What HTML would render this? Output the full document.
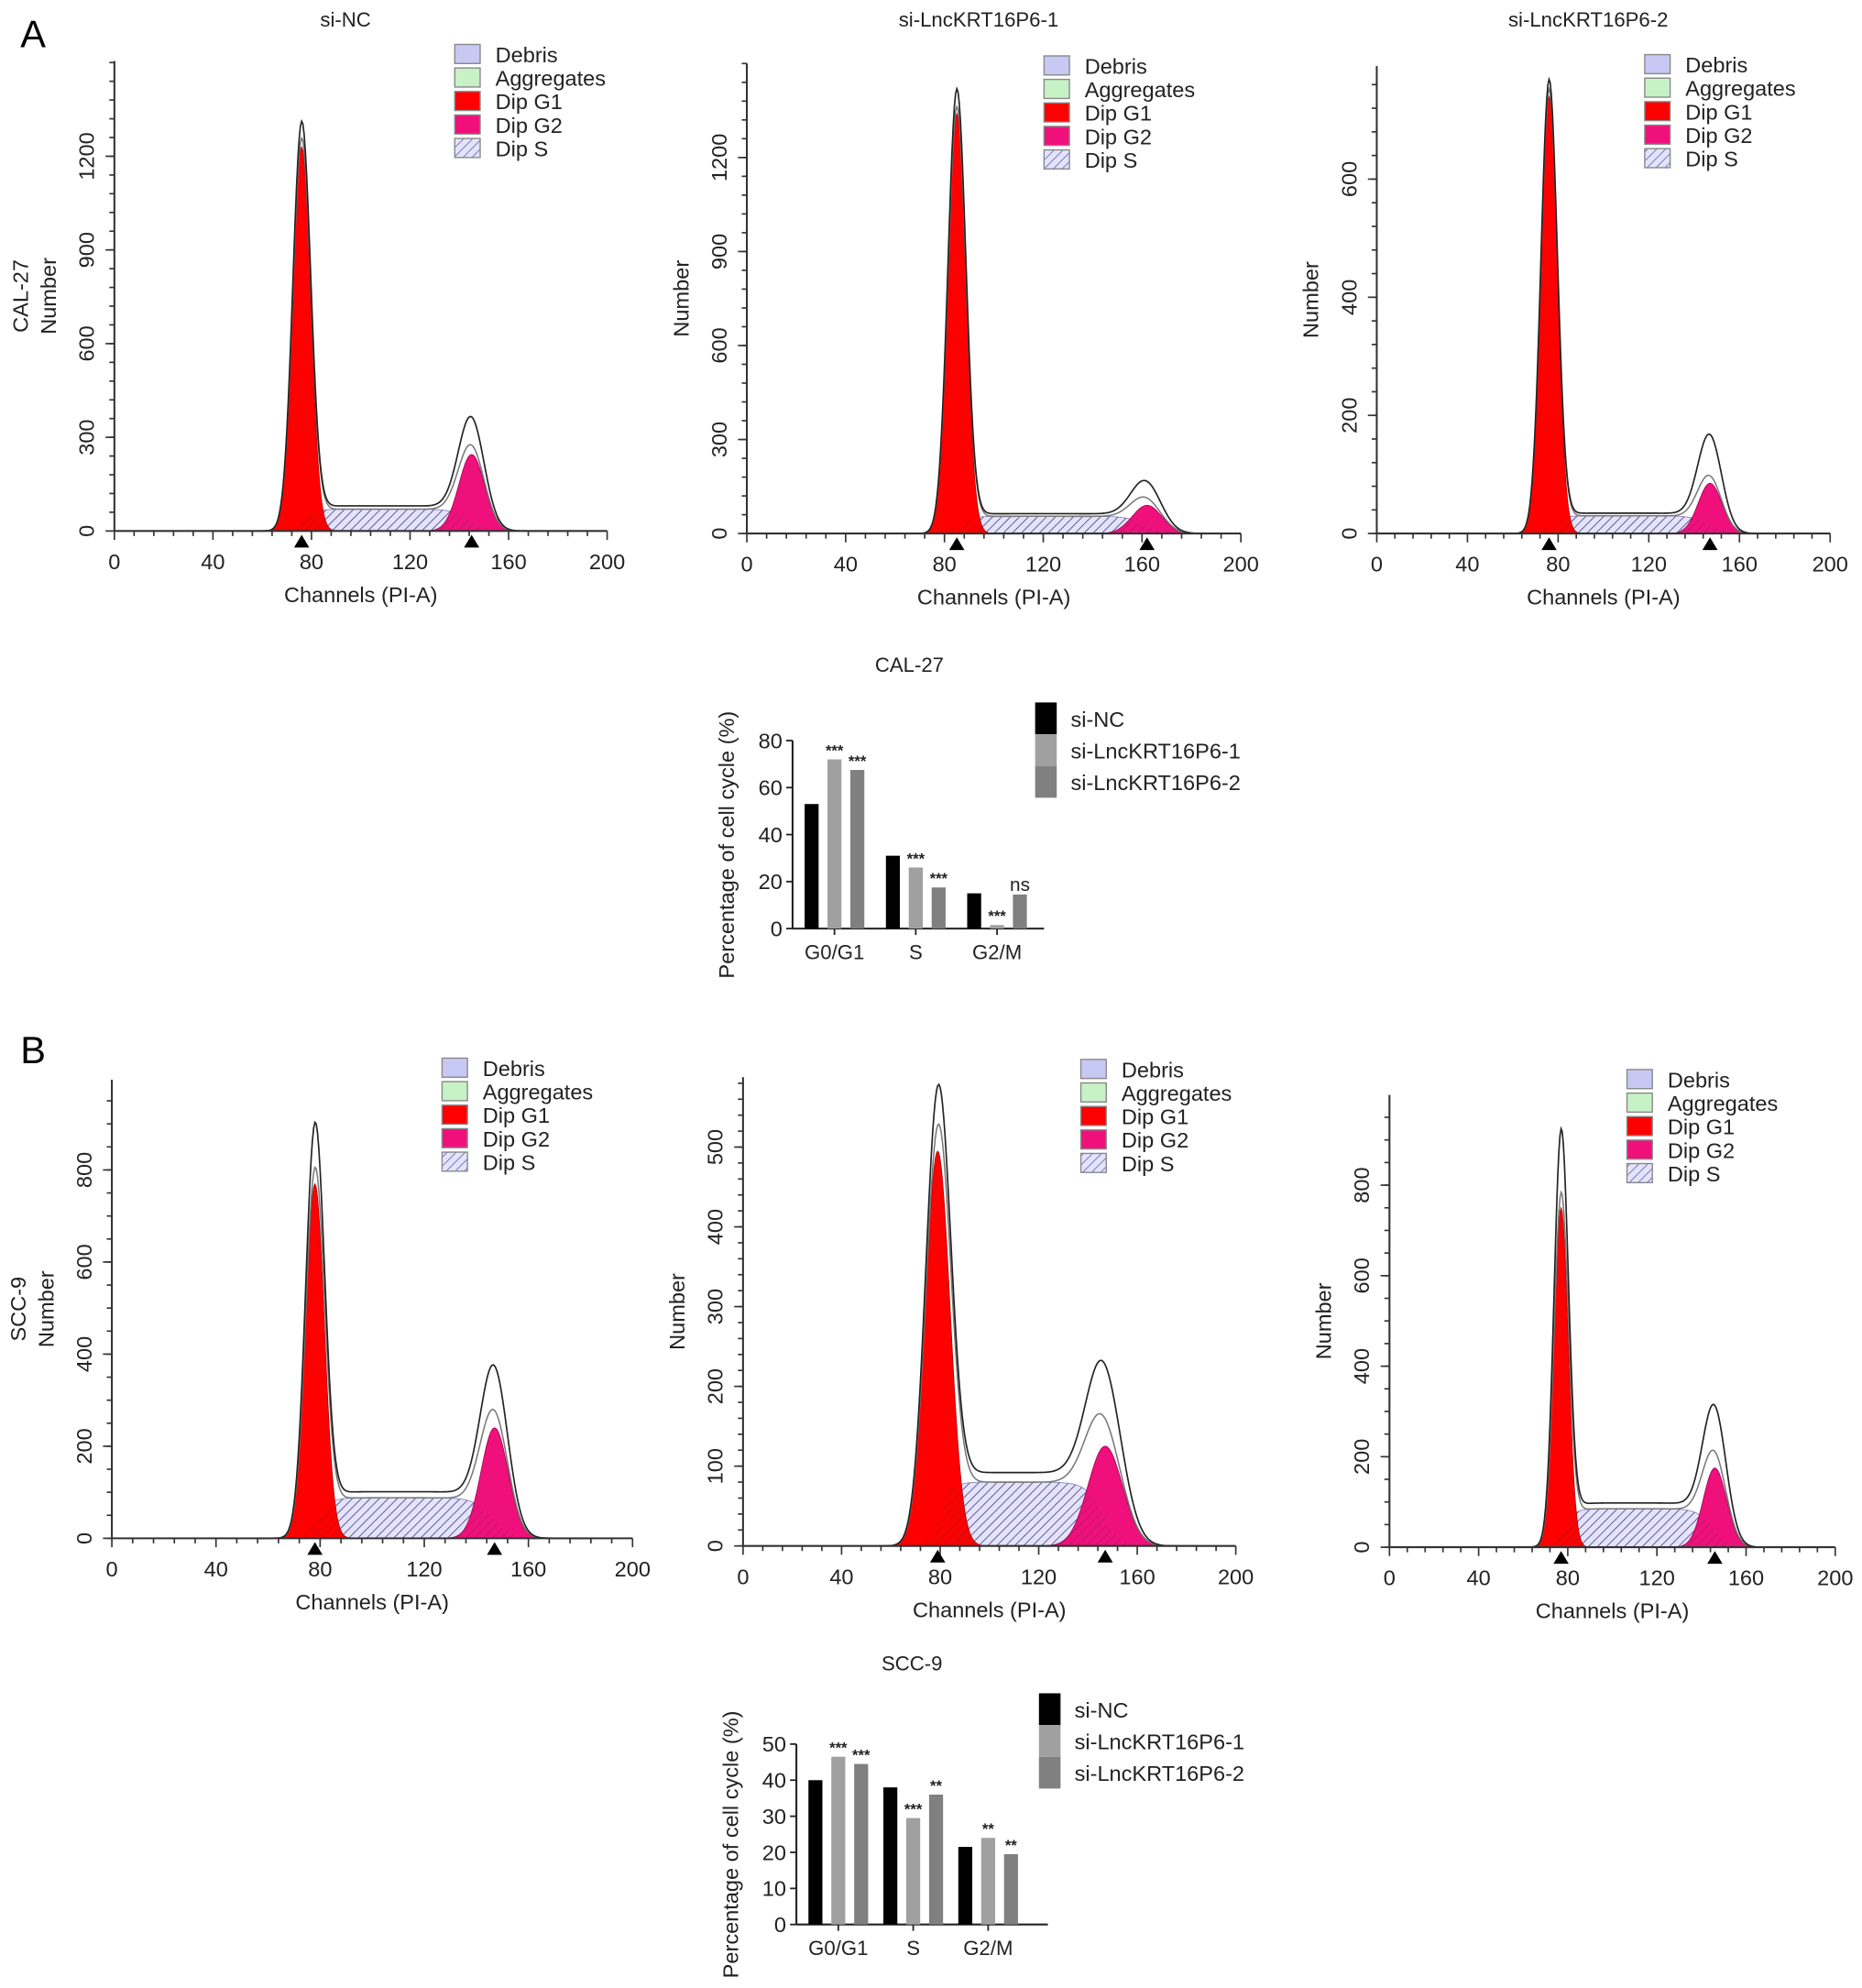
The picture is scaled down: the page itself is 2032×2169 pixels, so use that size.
<!DOCTYPE html>
<html><head><meta charset="utf-8"><style>
html,body{margin:0;padding:0;background:#fff;}
svg{display:block;font-family:"Liberation Sans",Arial,sans-serif;}
</style></head><body>
<svg id="fig" width="2032" height="2169" viewBox="0 0 1466 1565" xmlns="http://www.w3.org/2000/svg">
<defs>
<pattern id="hatch" patternUnits="userSpaceOnUse" width="5" height="5" patternTransform="rotate(45)">
<rect width="5" height="5" fill="#e4e4f8"/><line x1="0" y1="0" x2="0" y2="5" stroke="#6a6ad0" stroke-width="1.3"/></pattern>
<pattern id="hatchL" patternUnits="userSpaceOnUse" width="5" height="5" patternTransform="rotate(45)">
<line x1="0" y1="0" x2="0" y2="5" stroke="#552244" stroke-width="0.8" opacity="0.6"/></pattern>
</defs>
<text x="16" y="37" font-size="30">A</text>
<text x="16" y="837" font-size="30">B</text>
</svg>
<script>
// Histogram component data: [mean channel, peak height, sd]
const a1G1=[76,1230,3.6], a1G2=[145,245,5.2], a1S=[70];
const a2G1=[85,1340,3.6], a2G2=[162,90,6], a2S=[55];
const a3G1=[76,740,3.6], a3G2=[147,85,5.2], a3S=[30];
const b1G1=[78,770,3.6], b1G2=[147,240,5.2], b1S=[88];
const b2G1=[79,495,5.0], b2G2=[147,125,7], b2S=[80];
const b3G1=[77,750,3.2], b3G2=[146,175,5.2], b3S=[85];
const rawScale1=[1.04,1.35], rawScale2=[1.04,1.55], rawScale3=[1.02,1.8];
const rawScale4=[1.12,1.38], rawScale5=[1.09,1.5], rawScale6=[1.18,1.55];
const xTicks=[0,40,80,120,160,200];
const yTicksA1=[0,300,600,900,1200], yTicksA2=[0,300,600,900,1200], yTicksA3=[0,200,400,600];
const yTicksB1=[0,200,400,600,800], yTicksB2=[0,100,200,300,400,500], yTicksB3=[0,200,400,600,800];
const legendNames=["Debris","Aggregates","Dip G1","Dip G2","Dip S"];
// Bar chart data
const barCats=["G0/G1","S","G2/M"];
const barSeries=["si-NC","si-LncKRT16P6-1","si-LncKRT16P6-2"];
const calNC=[53,31,15], calK1=[72,26,1.5], calK2=[67.5,17.5,14.5];
const calSig1=["***","***","***"], calSig2=["***","***","ns"];
const sccNC=[40,38,21.5], sccK1=[46.5,29.5,24], sccK2=[44.5,36,19.5];
const sccSig1=["***","***","**"], sccSig2=["***","**","**"];
const calTicks=[0,20,40,60,80], sccTicks=[0,10,20,30,40,50];

const NS="http://www.w3.org/2000/svg";
const svg=document.getElementById('fig');
function mk(tag,attrs,parent){const e=document.createElementNS(NS,tag);for(const k in attrs)e.setAttribute(k,attrs[k]);(parent||svg).appendChild(e);return e;}
function txt(x,y,s,size,parent,extra){const t=mk('text',Object.assign({x:x,y:y,'font-size':size,fill:'#222'},extra||{}),parent);t.textContent=s;return t;}

function hist(name,L,G1,G2,S,yTicks,yMinor,rawS,title,cell){
  const g=mk('g',{});
  
  
  const xs=c=>L.x0+(L.x1-L.x0)*c/200;
  const ys=v=>L.base-v*L.k;
  const f1=c=>G1[1]*Math.exp(-((c-G1[0])**2)/(2*G1[2]**2));
  const f2=c=>G2[1]*Math.exp(-((c-G2[0])**2)/(2*G2[2]**2));
  const fs=c=>S[0]/(1+Math.exp(-(c-G1[0]-1)/2.6))/(1+Math.exp((c-G2[0]+1)/3.5));
  const cs=[];for(let c=55;c<=185;c+=0.5)cs.push(c);
  const area=f=>'M'+xs(55)+','+L.base+' '+cs.map(c=>'L'+xs(c).toFixed(2)+','+ys(f(c)).toFixed(2)).join(' ')+' L'+xs(185)+','+L.base+'Z';
  const sA=mk('path',{d:area(fs),fill:'url(#hatch)',stroke:'#8080c0','stroke-width':0.6},g);
  
  const a1=mk('path',{d:area(f1),fill:'#ff0000',stroke:'#b00000','stroke-width':0.6},g);
  
  const a2=mk('path',{d:area(f2),fill:'#f0107c',stroke:'#a00050','stroke-width':0.6},g);
  
  mk('path',{d:area(fs),fill:'url(#hatchL)',stroke:'none'},g);
  const tot=c=>f1(c)+f2(c)+fs(c);
  const fit=mk('path',{d:'M'+cs.map(c=>xs(c).toFixed(2)+','+ys(tot(c)).toFixed(2)).join(' L'),fill:'none',stroke:'#777','stroke-width':1.1},g);
  
  const raw=c=>f1(c)*rawS[0]+f2(c)*rawS[1]+fs(c)*1.15;
  const rl=mk('path',{d:'M'+cs.map(c=>xs(c).toFixed(2)+','+ys(raw(c)).toFixed(2)).join(' L'),fill:'none',stroke:'#222','stroke-width':1.2},g);
  
  mk('line',{x1:L.x0,y1:L.base,x2:L.x1,y2:L.base,stroke:'#333','stroke-width':1.5},g);
  mk('line',{x1:L.x0,y1:L.base,x2:L.x0,y2:L.top,stroke:'#333','stroke-width':1.5},g);
  for(let c=0;c<=200;c+=8){mk('line',{x1:xs(c),y1:L.base,x2:xs(c),y2:L.base+(c%40===0?7:4),stroke:'#333','stroke-width':1.2},g);}
  xTicks.forEach(v=>{const t=txt(xs(v),L.base+30,String(v),17,g,{'text-anchor':'middle'});});
  const ymax=(L.base-L.top)/L.k;
  for(let v=0;v<=ymax;v+=yMinor){mk('line',{x1:L.x0,y1:ys(v),x2:L.x0-4,y2:ys(v),stroke:'#333','stroke-width':1.2},g);}
  yTicks.forEach(v=>{mk('line',{x1:L.x0,y1:ys(v),x2:L.x0-7,y2:ys(v),stroke:'#333','stroke-width':1.2},g);
    const t=txt(L.x0-16,ys(v),String(v),17,g,{'text-anchor':'middle',transform:'rotate(-90 '+(L.x0-16)+' '+ys(v)+')'});
    });
  [G1[0],G2[0]].forEach(m=>{const tr=mk('path',{d:`M${xs(m)-6},${L.base+13} L${xs(m)+6},${L.base+13} L${xs(m)},${L.base+3}Z`,fill:'#000'},g);
    });
  const xt=txt((L.x0+L.x1)/2,L.base+56,'Channels (PI-A)',17,g,{'text-anchor':'middle'});
  
  const yx=L.x0-46,yy=(L.base+L.top)/2;
  const yt=txt(yx,yy,'Number',17,g,{'text-anchor':'middle',transform:`rotate(-90 ${yx} ${yy})`});
  
  if(cell){const cx=yx-22;const ct=txt(cx,yy,cell,17,g,{'text-anchor':'middle',transform:`rotate(-90 ${cx} ${yy})`});
    }
  if(title){const tt=txt((L.x0+L.x1)/2-12,L.titleY,title,16,g,{'text-anchor':'middle'});}
  const fills=['#c8c8f4','#c6f2c6','#ff0000','#f0107c','url(#hatch)'];
  legendNames.forEach((n,i)=>{const ly=L.ly+i*18.5;
    const le=mk('g',{},g);
    mk('rect',{x:L.lx,y:ly-8,width:20,height:15,fill:fills[i],stroke:'#888','stroke-width':1},le);
    txt(L.lx+32,ly+6,n,17,le);});
}
hist('histogram-cal27-si-nc',{x0:90,x1:478,base:418,k:295/1200,top:48,lx:358,ly:43,titleY:21},a1G1,a1G2,a1S,yTicksA1,60,rawScale1,'si-NC','CAL-27');
hist('histogram-cal27-si-1',{x0:588,x1:977,base:420,k:296/1200,top:50,lx:822,ly:52,titleY:21},a2G1,a2G2,a2S,yTicksA2,60,rawScale2,'si-LncKRT16P6-1',null);
hist('histogram-cal27-si-2',{x0:1084,x1:1441,base:420,k:279/600,top:52,lx:1295,ly:51,titleY:21},a3G1,a3G2,a3S,yTicksA3,40,rawScale3,'si-LncKRT16P6-2',null);
hist('histogram-scc9-si-nc',{x0:88,x1:498,base:1211,k:290/800,top:850,lx:348,ly:841},b1G1,b1G2,b1S,yTicksB1,50,rawScale4,null,'SCC-9');
hist('histogram-scc9-si-1',{x0:585,x1:973,base:1217,k:314/500,top:848,lx:851,ly:842},b2G1,b2G2,b2S,yTicksB2,20,rawScale5,null,null);
hist('histogram-scc9-si-2',{x0:1094,x1:1445,base:1218,k:285/800,top:862,lx:1281,ly:850},b3G1,b3G2,b3S,yTicksB3,50,rawScale6,null,null);

function bars(name,L,title,nc,k1,k2,sig1,sig2,ticks){
  const g=mk('g',{});
  
  
  const ys=v=>L.base-(L.base-L.topv)*v/ticks[ticks.length-1];
  const tt=txt(L.tx,L.ty,title,16,g,{'text-anchor':'middle'});
  mk('line',{x1:L.ax,y1:L.base,x2:L.ax,y2:L.topv,stroke:'#222','stroke-width':1.5},g);
  mk('line',{x1:L.ax,y1:L.base,x2:L.ax+198,y2:L.base,stroke:'#222','stroke-width':1.5},g);
  ticks.forEach(v=>{mk('line',{x1:L.ax,y1:ys(v),x2:L.ax-5,y2:ys(v),stroke:'#222','stroke-width':1.3},g);
    const t=txt(L.ax-8,ys(v)+6,String(v),17,g,{'text-anchor':'end'});});
  const cols=['#000','#a0a0a0','#808080'];
  const series=[nc,k1,k2];
  barCats.forEach((c,i)=>{const cx=L.ax+33+i*L.gap;
    mk('line',{x1:cx,y1:L.base,x2:cx,y2:L.base+5,stroke:'#222','stroke-width':1.3},g);
    const ct=txt(cx,L.base+24,c,16,g,{'text-anchor':'middle'});
    series.forEach((s,j)=>{const bx=cx+(j-1)*18-5.5;
      const r=mk('rect',{x:bx,y:ys(s[i]),width:11,height:L.base-ys(s[i]),fill:cols[j]},g);
      
      });
    [sig1,sig2].forEach((sg,j)=>{const v=[k1,k2][j][i];const sx=cx+j*18;
      const st=txt(sx,ys(v)-3,sg[i],sg[i]==='ns'?15:12,g,{'text-anchor':'middle','font-weight':sg[i]==='ns'?'normal':'bold'});
      });
  });
  const yx=L.ax-46,yy=(L.base+L.topv)/2+8;
  const yt=txt(yx,yy,'Percentage of cell cycle (%)',17,g,{'text-anchor':'middle',transform:`rotate(-90 ${yx} ${yy})`});
  
  barSeries.forEach((n,i)=>{const le=mk('g',{},g);
    mk('rect',{x:L.lx,y:L.ly-13+i*25,width:17,height:25,fill:cols[i]},le);
    txt(L.lx+28,L.ly+6+i*25,n,17,le);});
}
bars('bar-chart-cal27',{ax:624,base:731,topv:583,gap:64,tx:716,ty:529,lx:815,ly:566},'CAL-27',calNC,calK1,calK2,calSig1,calSig2,calTicks);
bars('bar-chart-scc9',{ax:627,base:1515,topv:1373,gap:59,tx:718,ty:1315,lx:818,ly:1346},'SCC-9',sccNC,sccK1,sccK2,sccSig1,sccSig2,sccTicks);
</script>
</body></html>
